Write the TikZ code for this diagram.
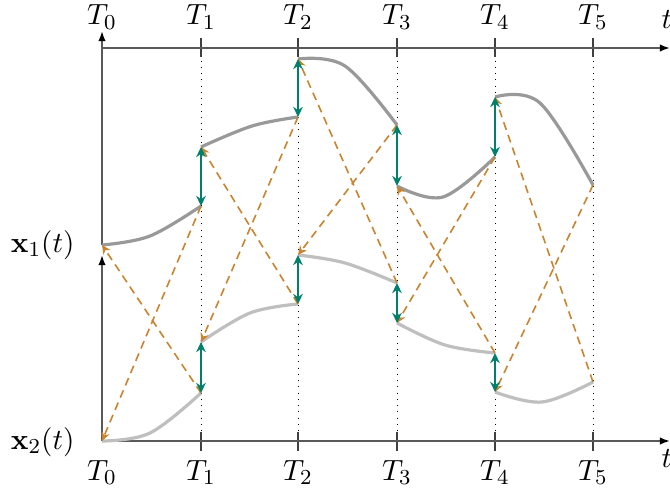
\documentclass[tikz,border=0pt]{standalone}
\usepackage{amsmath,amssymb}
\usepackage{xcolor}
\usetikzlibrary{arrows.meta}
\definecolor{jumpgreen}{HTML}{00806A}
\definecolor{linkorange}{HTML}{C8842E}

\begin{document}
\begin{tikzpicture}[x=0.375pt,y=-0.375pt,
  every node/.style={font=\fontsize{11}{13}\selectfont},
  axis/.style={black!65, line width=0.7pt},
  tick/.style={black!75, line width=0.5pt},
  trajone/.style={black!40, line width=1.2pt},
  trajtwo/.style={black!25, line width=1.2pt},
  jump/.style={jumpgreen, line width=0.9pt, {Stealth[length=3.8pt,width=3.6pt]}-{Stealth[length=3.8pt,width=3.6pt]}},
  link/.style={linkorange, line width=0.6pt, dash pattern=on 3pt off 2pt, -{Stealth[length=3.4pt,width=3.2pt]}}]
\useasboundingbox (0,0) rectangle (670,495);

% time grid
\foreach \x in {201,298,397,495,593} {
  \draw[dotted, line width=0.35pt] (\x,48) -- (\x,441);
  \draw[tick] (\x,38.5) -- (\x,57.5);
  \draw[tick] (\x,431.5) -- (\x,450.5);
}
\foreach \i/\x in {0/102,1/201,2/298,3/397,4/495,5/593} {
  \node[anchor=base] (tu\i) at (\x,25) {$T_{\i}$};
  \node[anchor=base] (tl\i) at (\x,480) {$T_{\i}$};
}
\node[anchor=base west, inner sep=0pt] (tu) at (661,29) {$t$};
\node[anchor=base west, inner sep=0pt] (tl) at (661,467) {$t$};
\node[anchor=east, inner sep=0pt] (lab1) at (75,245) {$\mathbf{x}_1(t)$};
\node[anchor=east, inner sep=0pt] (lab2) at (75,442) {$\mathbf{x}_2(t)$};

% trajectory points
\coordinate (u0) at (102,245);
\coordinate (u1m) at (201,206); \coordinate (u1p) at (201,147);
\coordinate (u2m) at (298,117); \coordinate (u2p) at (298,59);
\coordinate (u3m) at (397,125); \coordinate (u3p) at (397,186);
\coordinate (u4m) at (495,157); \coordinate (u4p) at (495,97);
\coordinate (u5m) at (593,185);
\coordinate (l0) at (102,441);
\coordinate (l1m) at (201,393); \coordinate (l1p) at (201,342);
\coordinate (l2m) at (298,304); \coordinate (l2p) at (298,255);
\coordinate (l3m) at (397,283); \coordinate (l3p) at (397,323);
\coordinate (l4m) at (495,353); \coordinate (l4p) at (495,392);
\coordinate (l5m) at (593,382);

% axes
\coordinate (au) at (102,31); \coordinate (al) at (102,255);
\coordinate (hu0) at (102,48); \coordinate (hu1) at (670,48);
\coordinate (hl1) at (670,441);
\draw[axis, -{Latex[length=3.8pt,width=2.8pt,black]}] (u0) -- (au);
\draw[axis, -{Latex[length=3.8pt,width=2.8pt,black]}] (l0) -- (al);
\draw[axis, -{Latex[length=3.8pt,width=2.8pt,black]}] (hu0) -- (hu1);
\draw[axis, -{Latex[length=3.8pt,width=2.8pt,black]}] (l0) -- (hl1);

% trajectories
\draw[trajone] plot[smooth, tension=0.6] coordinates {(u0) (150,236) (u1m)};
\draw[trajone] plot[smooth, tension=0.6] coordinates {(u1p) (252,126) (u2m)};
\draw[trajone] plot[smooth, tension=0.6] coordinates {(u2p) (345,66) (u3m)};
\draw[trajone] plot[smooth, tension=0.6] coordinates {(u3p) (443,197) (u4m)};
\draw[trajone] plot[smooth, tension=0.6] coordinates {(u4p) (540,103) (u5m)};
\draw[trajtwo] plot[smooth, tension=0.6] coordinates {(l0) (150,433) (l1m)};
\draw[trajtwo] plot[smooth, tension=0.6] coordinates {(l1p) (250,313) (l2m)};
\draw[trajtwo] plot[smooth, tension=0.6] coordinates {(l2p) (345,263) (l3m)};
\draw[trajtwo] plot[smooth, tension=0.6] coordinates {(l3p) (445,345) (l4m)};
\draw[trajtwo] plot[smooth, tension=0.6] coordinates {(l4p) (542,402) (l5m)};

% cross links
\draw[link] (l1m) -- (u0);
\draw[link] (u1m) -- (l0);
\draw[link] (l2m) -- (u1p);
\draw[link] (u2m) -- (l1p);
\draw[link] (l3m) -- (u2p);
\draw[link] (u3m) -- (l2p);
\draw[link] (l4m) -- (u3p);
\draw[link] (u4m) -- (l3p);
\draw[link] (l5m) -- (u4p);
\draw[link] (u5m) -- (l4p);

% jumps
\draw[jump] (u1m) -- (u1p);
\draw[jump] (u2m) -- (u2p);
\draw[jump] (u3m) -- (u3p);
\draw[jump] (u4m) -- (u4p);
\draw[jump] (l1m) -- (l1p);
\draw[jump] (l2m) -- (l2p);
\draw[jump] (l3m) -- (l3p);
\draw[jump] (l4m) -- (l4p);
\end{tikzpicture}
\end{document}
